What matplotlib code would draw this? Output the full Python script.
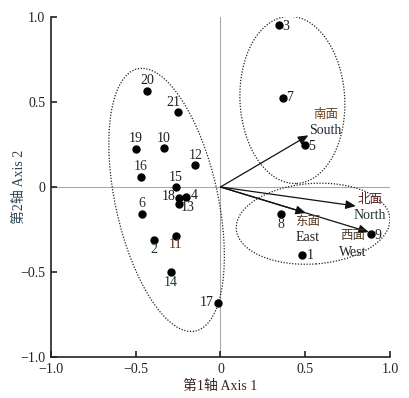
import matplotlib
matplotlib.use("Agg")
import matplotlib.pyplot as plt
from matplotlib.patches import Ellipse

plt.rcParams['font.family'] = ['Liberation Serif', 'Noto Sans CJK SC', 'DejaVu Sans']
plt.rcParams['axes.unicode_minus'] = True

# ---- data ----
site_ids = ['1', '2', '3', '4', '5', '6', '7', '8', '9', '10', '11',
            '12', '13', '14', '15', '16', '17', '18', '19', '20', '21']
axis1 = [0.482, -0.392, 0.345, -0.202, 0.500, -0.465, 0.371, 0.357, 0.888, -0.331, -0.265,
         -0.149, -0.247, -0.292, -0.265, -0.469, -0.016, -0.245, -0.498, -0.433, -0.249]
axis2 = [-0.402, -0.312, 0.951, -0.057, 0.245, -0.157, 0.524, -0.159, -0.276, 0.227, -0.286,
         0.131, -0.100, -0.500, -0.002, 0.059, -0.680, -0.063, 0.224, 0.565, 0.439]

aspect_cn = ['南面', '北面', '东面', '西面']
aspect_en = ['South', 'North', 'East', 'West']
arrow_x = [0.518, 0.798, 0.504, 0.875]
arrow_y = [0.304, -0.112, -0.153, -0.265]

# group ellipses: centre x, centre y, width, height, angle
groups_cx = [-0.318, 0.424, 0.546]
groups_cy = [-0.076, 0.512, -0.216]
groups_w = [0.604, 0.618, 0.908]
groups_h = [1.58, 0.984, 0.474]
groups_ang = [12.5, 3.0, 4.0]

ticks = [-1.0, -0.5, 0, 0.5, 1.0]
tick_labels = ['\u22121.0', '\u22120.5', '0', '0.5', '1.0']

# ---- label placement (pixel offsets) ----
label_off = {
    '1': (5, 0, 'left', 'center'), '2': (0, -9, 'center', 'center'),
    '3': (3, -1, 'left', 'center'), '4': (4, 1, 'left', 'center'),
    '5': (3, -1, 'left', 'center'), '6': (0, 10, 'center', 'center'),
    '7': (3, 0, 'left', 'center'), '8': (0, -10, 'center', 'center'),
    '9': (3, -2, 'left', 'center'), '10': (-1, 10, 'center', 'center'),
    '11': (0, -9, 'center', 'center'), '12': (0, 9, 'center', 'center'),
    '13': (2, -4, 'left', 'center'), '14': (0, -10, 'center', 'center'),
    '15': (0, 10, 'center', 'center'), '16': (0, 10, 'center', 'center'),
    '17': (-4, 0, 'right', 'center'), '18': (-3, 1, 'right', 'center'),
    '19': (0, 10, 'center', 'center'), '20': (0, 10, 'center', 'center'),
    '21': (-5, 10, 'center', 'center'),
}
label_col = {'11': '#6a2418', '2': '#1f3535', '6': '#1f3535', '14': '#1f3535',
             '8': '#1f3535', '16': '#252f2f', '12': '#252f2f'}

fig = plt.figure(figsize=(4.10, 3.98), dpi=100)
ax = fig.add_axes([51/410, 41/398, 339/410, 340/398])
ax.set_xlim(-1, 1)
ax.set_ylim(-1, 1)

ax.axhline(0, color='#aaaaaa', lw=0.8, zorder=1)
ax.axvline(0, color='#aaaaaa', lw=0.8, zorder=1)

for cx, cy, w, h, a in zip(groups_cx, groups_cy, groups_w, groups_h, groups_ang):
    ax.add_patch(Ellipse((cx, cy), w, h, angle=a, fill=False, ec='#222222',
                         lw=0.9, ls=(0, (1, 1.3)), zorder=2))

for xe, ye in zip(arrow_x, arrow_y):
    ax.annotate('', xy=(xe, ye), xytext=(0, 0),
                arrowprops=dict(arrowstyle='-|>,head_length=0.5,head_width=0.22',
                                mutation_scale=12, lw=0.9,
                                color='#111111', shrinkA=0, shrinkB=0), zorder=3)

ax.plot(axis1, axis2, 'o', color='black', ms=5, zorder=4)

for sid, x, y in zip(site_ids, axis1, axis2):
    dx, dy, ha, va = label_off[sid]
    ax.annotate(sid, (x, y), xytext=(dx, dy), textcoords='offset pixels',
                ha=ha, va=va, fontsize=10, color=label_col.get(sid, '#1e1e1e'), zorder=5)

# aspect labels (Chinese above English)
aspect_pos = [(0.618, 0.428), (0.881, -0.072), (0.514, -0.204), (0.778, -0.288)]
cn_col = ['#6a4520', '#5a2020', '#5a3a20', '#4a3a2a']
en_col = ['#1e2a38', '#1f3535', '#222222', '#222222']
for (px, py), cn, en, c1, c2 in zip(aspect_pos, aspect_cn, aspect_en, cn_col, en_col):
    ax.text(px, py, cn, ha='center', va='center', fontsize=9,
            family=['Noto Sans CJK SC'], color=c1, zorder=5)
    ax.text(px, py - 0.095, en, ha='center', va='center', fontsize=10,
            color=c2, zorder=5)

for s in ['top', 'right']:
    ax.spines[s].set_visible(False)
for s in ['left', 'bottom']:
    ax.spines[s].set_linewidth(1.2)
    ax.spines[s].set_color('#222222')

ax.set_xticks(ticks)
ax.set_xticklabels(tick_labels)
ax.set_yticks(ticks)
ax.set_yticklabels(tick_labels)
ax.tick_params(direction='in', length=4, width=1.2, labelsize=10, pad=4,
               colors='#222222')

ax.set_xlabel('第1轴 Axis 1', fontsize=10, color='#3a2522', labelpad=3)
ax.set_ylabel('第2轴 Axis 2', fontsize=10, color='#2a4555', labelpad=-4)

fig.savefig('out.png', dpi=100)
